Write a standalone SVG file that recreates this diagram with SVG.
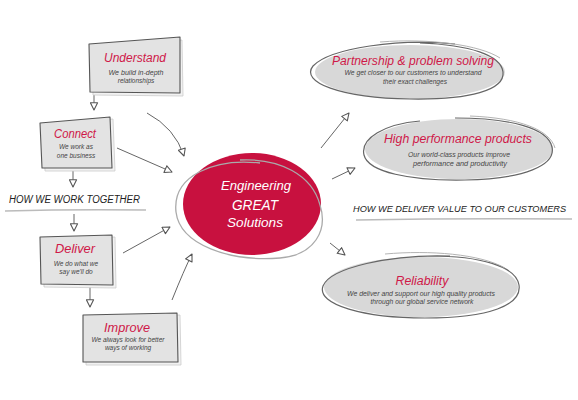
<svg xmlns="http://www.w3.org/2000/svg" width="578" height="400" viewBox="0 0 578 400">
<defs>
<marker id="ah" viewBox="0 0 10 10" refX="9" refY="5" markerWidth="9" markerHeight="9" markerUnits="userSpaceOnUse" orient="auto">
<path d="M1,1 L9,5 L1,9 Z" fill="#fff" stroke="#555" stroke-width="1.2" stroke-linejoin="round"/>
</marker>
</defs>
<style>
.box{fill:#e3e3e3;stroke:#555;stroke-width:1.1;stroke-linejoin:round}
.shadow{fill:#f2f2f2;stroke:#ccc;stroke-width:0.8}
.ell{fill:#d8d8d8;stroke:none}
.eo{fill:none;stroke:#666;stroke-width:1.2}
.eo2{fill:none;stroke:#aaa;stroke-width:0.9}
.t{font-family:"Liberation Sans",Arial,sans-serif;font-style:italic;fill:#cf1848;text-anchor:middle}
.s{font-family:"Liberation Sans",Arial,sans-serif;font-style:italic;fill:#444;text-anchor:middle;font-size:6.5px}
.h{font-family:"Liberation Sans",Arial,sans-serif;font-style:italic;fill:#222}
.w{font-family:"Liberation Sans",Arial,sans-serif;font-style:italic;fill:#fff;text-anchor:middle}
.c{fill:none;stroke:#666;stroke-width:1;marker-end:url(#ah)}
.ul{stroke:#bbb;stroke-width:1.5;fill:none}
</style>
<rect width="578" height="400" fill="#fff"/>

<g id="connectors">
<path class="c" d="M94,93 L94,110"/>
<path class="c" d="M73,169 L73,187"/>
<path class="c" d="M74,214 L74,231"/>
<path class="c" d="M90,285 L90,307"/>
<path class="c" d="M147,113 Q175,128 184,156"/>
<path class="c" d="M117,148 L172,172"/>
<path class="c" d="M123,253 L170,227"/>
<path class="c" d="M172,300 Q184,270 192,254"/>
<path class="c" d="M321,148 L349,113"/>
<path class="c" d="M332,179 L355,168"/>
<path class="c" d="M330,243 L345,255"/>
</g>

<g id="understand">
<polygon class="shadow" points="92,46 182,40 183,96 93,95"/>
<polygon class="box" points="89,44 180,37 180,93 90,92"/>
<text class="t" x="135" y="62" font-size="12" textLength="62" lengthAdjust="spacingAndGlyphs">Understand</text>
<text class="s" x="136" y="75" textLength="55" lengthAdjust="spacingAndGlyphs">We build in-depth</text>
<text class="s" x="136" y="83">relationships</text>
</g>

<g id="connect">
<polygon class="shadow" points="43,125 113,119 115,171 45,171"/>
<polygon class="box" points="40,123 110,117 112,168 42,168"/>
<text class="t" x="75" y="138" font-size="12" textLength="42" lengthAdjust="spacingAndGlyphs">Connect</text>
<text class="s" x="76" y="149">We work as</text>
<text class="s" x="76" y="158">one business</text>
</g>

<g id="how-together">
<text class="h" x="9" y="203" font-size="10" textLength="131" lengthAdjust="spacingAndGlyphs">HOW WE WORK TOGETHER</text>
<path class="ul" d="M5,211 Q75,209 146,210"/>
</g>

<g id="deliver">
<polygon class="shadow" points="43,239 115,237 116,288 44,287"/>
<polygon class="box" points="40,237 112,235 113,285 41,284"/>
<text class="t" x="75" y="253" font-size="12" textLength="40" lengthAdjust="spacingAndGlyphs">Deliver</text>
<text class="s" x="76" y="266">We do what we</text>
<text class="s" x="76" y="274">say we'll do</text>
</g>

<g id="improve">
<polygon class="shadow" points="86,317 180,315 181,365 86,365"/>
<polygon class="box" points="83,315 177,313 178,362 83,362"/>
<text class="t" x="127" y="332" font-size="12" textLength="46" lengthAdjust="spacingAndGlyphs">Improve</text>
<text class="s" x="128" y="342">We always look for better</text>
<text class="s" x="128" y="350">ways of working</text>
</g>

<g id="centre">
<ellipse cx="252" cy="204" rx="69" ry="51" fill="#c8113f"/>
<path d="M260,163 C215,158 172,175 176,212 C180,245 230,262 280,258 C315,255 328,230 320,205 C312,175 280,158 240,160" fill="none" stroke="#aaa" stroke-width="1.3"/>
<text class="w" x="256" y="190" font-size="13" textLength="70" lengthAdjust="spacingAndGlyphs">Engineering</text>
<text class="w" x="255" y="210" font-size="15" textLength="46" lengthAdjust="spacingAndGlyphs">GREAT</text>
<text class="w" x="255" y="227" font-size="13" textLength="56" lengthAdjust="spacingAndGlyphs">Solutions</text>
</g>

<g id="partnership">
<ellipse class="ell" cx="410" cy="72" rx="95" ry="27"/>
<path class="eo" d="M455,44 C400,38 330,48 313,66 C300,82 340,98 410,99 C470,100 505,90 503,72 C501,55 470,45 420,43"/>
<path class="eo2" d="M380,42 C430,38 480,45 500,58"/>
<text class="t" x="413" y="65" font-size="12" textLength="162" lengthAdjust="spacingAndGlyphs">Partnership &amp; problem solving</text>
<text class="s" x="413" y="75" textLength="137" lengthAdjust="spacingAndGlyphs">We get closer to our customers to understand</text>
<text class="s" x="415" y="84" textLength="64" lengthAdjust="spacingAndGlyphs">their exact challenges</text>
</g>

<g id="performance">
<ellipse class="ell" cx="459" cy="149" rx="94" ry="30"/>
<path class="eo" d="M420,121 C385,124 360,138 364,155 C368,172 410,181 465,180 C525,179 556,165 552,147 C548,128 510,118 455,118"/>
<path class="eo2" d="M470,116 C520,118 550,130 555,148"/>
<text class="t" x="458" y="143" font-size="12" textLength="148" lengthAdjust="spacingAndGlyphs">High performance products</text>
<text class="s" x="459" y="157" textLength="102" lengthAdjust="spacingAndGlyphs">Our world-class products improve</text>
<text class="s" x="460" y="166" textLength="94" lengthAdjust="spacingAndGlyphs">performance and productivity</text>
</g>

<g id="how-deliver">
<text class="h" x="353" y="212" font-size="9.2">HOW WE DELIVER VALUE TO OUR CUSTOMERS</text>
<path class="ul" d="M356,220 Q460,218 572,219"/>
</g>

<g id="reliability">
<ellipse class="ell" cx="421" cy="287" rx="97" ry="30"/>
<path class="eo" d="M450,256 C390,254 330,268 323,286 C316,305 365,318 425,318 C490,318 522,305 519,285 C516,266 480,256 430,256"/>
<path class="eo2" d="M385,254 C430,250 480,254 505,268"/>
<text class="t" x="422" y="285" font-size="12" textLength="53" lengthAdjust="spacingAndGlyphs">Reliability</text>
<text class="s" x="421" y="296" textLength="148" lengthAdjust="spacingAndGlyphs">We deliver and support our high quality products</text>
<text class="s" x="422" y="304" textLength="103" lengthAdjust="spacingAndGlyphs">through our global service network</text>
</g>
</svg>
